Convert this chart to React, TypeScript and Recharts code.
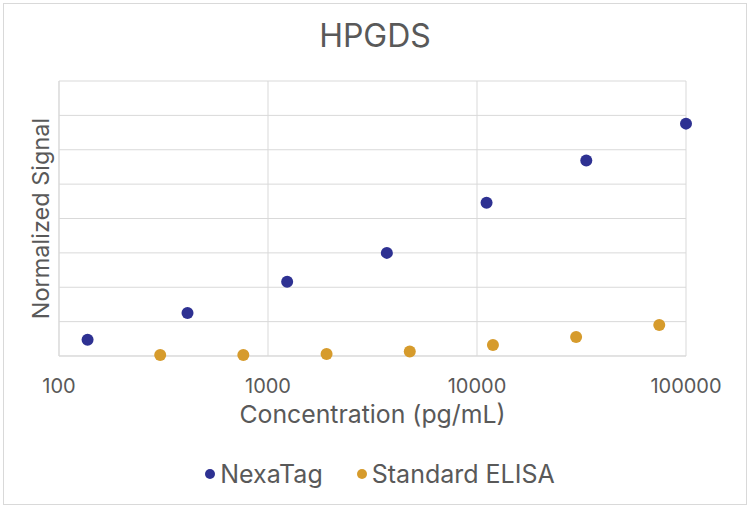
import React from "react";
import {
  ScatterChart,
  Scatter,
  XAxis,
  YAxis,
  CartesianGrid,
  Legend,
} from "recharts";

const nexaConc = [137, 412, 1235, 3704, 11111, 33333, 100000];
const nexaSignal = [0.47, 1.25, 2.16, 3.0, 4.46, 5.69, 6.76];
const elisaConc = [305, 762, 1907, 4768, 11920, 29800, 74500];
const elisaSignal = [0.03, 0.03, 0.06, 0.13, 0.32, 0.55, 0.9];
const xTicks = [100, 1000, 10000, 100000];
const yTicks = [0, 1, 2, 3, 4, 5, 6, 7, 8];

const NEXA = "#2e3192";
const ELISA = "#d69b2c";
const TEXT = "#595959";
const FONT = "Inter, sans-serif";

const nexaData = nexaConc.map((x, i) => ({ x, y: nexaSignal[i] }));
const elisaData = elisaConc.map((x, i) => ({ x, y: elisaSignal[i] }));

const legendItems = [
  { name: "NexaTag", color: NEXA },
  { name: "Standard ELISA", color: ELISA },
];

const dot = (color: string) => (props: any) =>
  <circle cx={props.cx} cy={props.cy} r={6} fill={color} />;

const renderLegend = () => (
  <div
    style={{
      display: "flex",
      justifyContent: "center",
      alignItems: "center",
      gap: 34,
      paddingLeft: 10,
      fontFamily: FONT,
      fontSize: 25,
      color: TEXT,
      height: 40,
    }}>
    {legendItems.map((item) => (
      <div key={item.name} style={{ display: "flex", alignItems: "center" }}>
        <span
          style={{
            width: 10,
            height: 10,
            borderRadius: 5,
            background: item.color,
            marginRight: 5,
          }}
        />
        {item.name}
      </div>
    ))}
  </div>
);

export default function App() {
  return (
    <div style={{ position: "relative", width: 750, height: 508, background: "#fff" }}>
      <style>{`body{margin:0}`}</style>
      <div
        style={{
          position: "absolute",
          inset: 3,
          border: "1px solid #d9d9d9",
          pointerEvents: "none",
        }}
      />
      <div
        style={{
          position: "absolute",
          top: 16,
          width: 750,
          textAlign: "center",
          fontFamily: FONT,
          fontSize: 32,
          color: TEXT,
        }}>
        HPGDS
      </div>
      <ScatterChart
        width={750}
        height={508}
        margin={{ top: 81, right: 64, left: 0, bottom: 14 }}>
        <CartesianGrid stroke="#d9d9d9" />
        <XAxis
          type="number"
          dataKey="x"
          scale="log"
          domain={[100, 100000]}
          ticks={xTicks}
          tickLine={false}
          axisLine={{ stroke: "#d9d9d9" }}
          height={98}
          tick={{ fill: TEXT, fontSize: 20, fontFamily: FONT, dy: 15 }}
          label={{
            value: "Concentration (pg/mL)",
            position: "insideBottom",
            offset: 31,
            fill: TEXT,
            fontSize: 24.8,
            fontFamily: FONT,
          }}
        />
        <YAxis
          type="number"
          dataKey="y"
          domain={[0, 8]}
          ticks={yTicks}
          width={59}
          tickFormatter={() => ""}
          tickLine={false}
          axisLine={{ stroke: "#d9d9d9" }}
          label={{
            value: "Normalized Signal",
            angle: -90,
            position: "insideLeft",
            offset: 41,
            fill: TEXT,
            fontSize: 23.5,
            fontFamily: FONT,
            style: { textAnchor: "middle" },
          }}
        />
        <Legend
          verticalAlign="bottom"
          height={40}
          content={renderLegend}
          wrapperStyle={{ left: 0, width: 750 }}
        />
        <Scatter
          name="NexaTag"
          data={nexaData}
          fill={NEXA}
          shape={dot(NEXA)}
          isAnimationActive={false}
        />
        <Scatter
          name="Standard ELISA"
          data={elisaData}
          fill={ELISA}
          shape={dot(ELISA)}
          isAnimationActive={false}
        />
      </ScatterChart>
    </div>
  );
}
